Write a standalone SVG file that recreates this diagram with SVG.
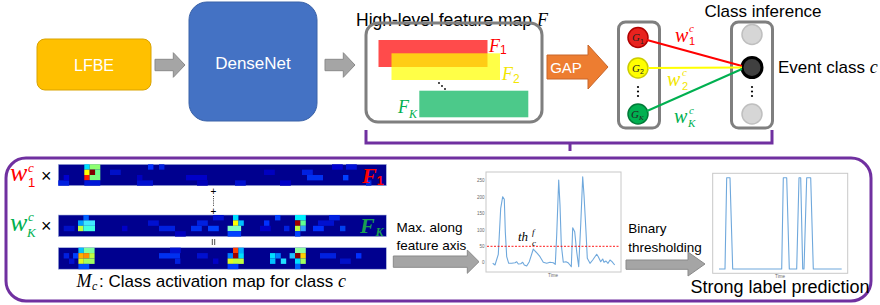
<svg xmlns="http://www.w3.org/2000/svg" width="880" height="305" viewBox="0 0 880 305">
<style>
.sans{font-family:"Liberation Sans",Arial,sans-serif}
.mi{font-family:"Liberation Serif","Times New Roman",serif;font-style:italic}
.wt{fill:#fff}
.box{fill:none;stroke:#7f7f7f;stroke-width:3}
.garrow{fill:#a5a5a5;stroke:#8a8a8a;stroke-width:1}
.tick{font-family:"Liberation Sans",Arial,sans-serif;font-size:4.5px;fill:#666;text-anchor:end}
.frame{fill:#fff;stroke:#c8c8c8;stroke-width:1}
.curve{fill:none;stroke:#6fa8dc;stroke-width:1.1;stroke-linejoin:round}
</style>
<rect width="880" height="305" fill="#fff"/>

<g id="lfbe">
<rect x="37" y="39" width="114" height="51" rx="8" fill="#FFC000" stroke="#d9a300" stroke-width="1"/>
<text class="sans wt" x="94" y="71" font-size="16" text-anchor="middle">LFBE</text>
</g>

<g id="densenet">
<rect x="189" y="2" width="128" height="119" rx="18" fill="#4472C4" stroke="#3a62a8" stroke-width="1"/>
<text class="sans wt" x="253" y="69" font-size="17" text-anchor="middle">DenseNet</text>
</g>

<g id="featuremap">
<text class="sans" x="356" y="26" font-size="17.5" fill="#000">High-level feature map <tspan class="mi" font-size="18">F</tspan></text>
<rect class="box" x="366" y="23" width="176" height="99" rx="12"/>
<rect x="378.5" y="40" width="109" height="27" fill="#FF4B4B"/>
<rect x="391.5" y="53.3" width="108.5" height="26.7" fill="#FFFF00" fill-opacity="0.72"/>
<rect x="419.3" y="90.7" width="109" height="26.6" fill="#4CC98A"/>
<text class="mi" x="489" y="51.5" font-size="18" fill="#FF0000">F</text>
<text class="sans" x="500" y="54" font-size="12" fill="#FF0000">1</text>
<text class="mi" x="502" y="79.5" font-size="18" fill="#F2E600">F</text>
<text class="sans" x="513" y="83" font-size="12" fill="#F2E600">2</text>
<text class="mi" x="398" y="113" font-size="18" fill="#00B050">F</text>
<text class="mi" x="409" y="118" font-size="12" fill="#00B050">K</text>
<circle cx="439" cy="83" r="0.9" fill="#000"/>
<circle cx="442" cy="86" r="0.9" fill="#000"/>
<circle cx="445" cy="89" r="0.9" fill="#000"/>
</g>

<g id="gap">
<path d="M547,55 L588,55 L588,45 L608,67 L588,89 L588,79 L547,79 Z" fill="#ED7D31" stroke="#c8662a" stroke-width="1"/>
<text class="sans wt" x="566" y="73" font-size="15" text-anchor="middle">GAP</text>
</g>

<g id="gap-neurons">
<rect class="box" x="618.5" y="22" width="41" height="106" rx="7"/>
<circle cx="638" cy="37.5" r="10" fill="#E8221E" stroke="#b00000" stroke-width="1.5"/>
<text class="mi" x="632" y="41" font-size="11" fill="#222">G</text><text class="sans" x="640" y="43.5" font-size="7" fill="#222">1</text>
<circle cx="638" cy="68" r="10" fill="#FFFF00" stroke="#cccc00" stroke-width="1.5"/>
<text class="mi" x="632" y="71.5" font-size="11" fill="#222">G</text><text class="sans" x="640" y="74" font-size="7" fill="#222">2</text>
<circle cx="638" cy="87" r="1.1" fill="#000"/><circle cx="638" cy="91.5" r="1.1" fill="#000"/><circle cx="638" cy="96" r="1.1" fill="#000"/>
<circle cx="638" cy="114" r="10" fill="#00B050" stroke="#007a38" stroke-width="1.5"/>
<text class="mi" x="631" y="117.5" font-size="11" fill="#222">G</text><text class="mi" x="639" y="120" font-size="7" fill="#222">K</text>
</g>

<g id="class-neurons">
<text class="sans" x="763" y="17" font-size="17" text-anchor="middle" fill="#000">Class inference</text>
<rect class="box" x="731.5" y="22" width="41" height="106" rx="7"/>
<circle cx="752" cy="34.5" r="10" fill="#d6d6d6" stroke="#bfbfbf" stroke-width="1.5"/>
<circle cx="752" cy="67.5" r="10" fill="#404040" stroke="#000" stroke-width="3"/>
<circle cx="752" cy="87" r="1.1" fill="#000"/><circle cx="752" cy="91.5" r="1.1" fill="#000"/><circle cx="752" cy="96" r="1.1" fill="#000"/>
<circle cx="752" cy="114" r="10" fill="#d6d6d6" stroke="#bfbfbf" stroke-width="1.5"/>
<text class="sans" x="778" y="73" font-size="17" fill="#000">Event class <tspan class="mi" font-size="18">c</tspan></text>
</g>

<g id="connectors">
<path class="garrow" d="M155,59.3 L173.3,59.3 L173.3,52.7 L185,65 L173.3,77.3 L173.3,70.7 L155,70.7 Z"/>
<path class="garrow" d="M325,59.3 L343.3,59.3 L343.3,52.7 L355,65 L343.3,77.3 L343.3,70.7 L325,70.7 Z"/>
<line x1="647" y1="40" x2="742" y2="66" stroke="#FF0000" stroke-width="2"/>
<line x1="648" y1="68" x2="742" y2="67.5" stroke="#FFFF00" stroke-width="2"/>
<line x1="647" y1="111" x2="742" y2="69" stroke="#00B050" stroke-width="2"/>
<path d="M366,130 V143 H772 V130 M570,143 V151" fill="none" stroke="#7030A0" stroke-width="3"/>
<path class="garrow" d="M393.3,256 L467.3,256 L467.3,250 L479,261.7 L467.3,273.3 L467.3,267.3 L393.3,267.3 Z"/>
<path class="garrow" d="M626,260 L688,260 L688,252 L705,264 L688,276 L688,269.3 L626,269.3 Z"/>
</g>

<g id="weights">
<text class="mi" x="675" y="41.5" font-size="20" fill="#FF0000">w</text>
<text class="mi" x="689" y="32" font-size="11" fill="#FF0000">c</text>
<text class="sans" x="689" y="45" font-size="11" fill="#FF0000">1</text>
<text class="mi" x="667" y="86" font-size="20" fill="#F2E600">w</text>
<text class="mi" x="682" y="76" font-size="11" fill="#F2E600">c</text>
<text class="sans" x="682" y="89.5" font-size="11" fill="#F2E600">2</text>
<text class="mi" x="674" y="123" font-size="20" fill="#00B050">w</text>
<text class="mi" x="689" y="113.5" font-size="11" fill="#00B050">c</text>
<text class="mi" x="688" y="127" font-size="11" fill="#00B050">K</text>
</g>

<g id="cam-panel">
<rect x="6" y="158" width="865" height="143" rx="20" fill="none" stroke="#7030A0" stroke-width="3"/>

<text class="mi" x="10" y="181" font-size="26" fill="#FF0000">w</text>
<text class="mi" x="28" y="172" font-size="13" fill="#FF0000">c</text>
<text class="sans" x="28" y="187" font-size="13" fill="#FF0000">1</text>
<text class="sans" x="41" y="182" font-size="18" fill="#000">×</text>
<text class="mi" x="10" y="231" font-size="26" fill="#00B050">w</text>
<text class="mi" x="28" y="221" font-size="13" fill="#00B050">c</text>
<text class="mi" x="27" y="237" font-size="13" fill="#00B050">K</text>
<text class="sans" x="41" y="232" font-size="18" fill="#000">×</text>

<g id="strip1">
<rect x="58.3" y="164.3" width="328" height="21.4" fill="#00008F" stroke="#aab8dd" stroke-width="0.6"/>
<rect x="58.3" y="180.35" width="10.8" height="5.35" fill="#0020E0"/>
<rect x="63.7" y="175" width="5.4" height="5.35" fill="#0000D0"/>
<rect x="110" y="169.65" width="10.8" height="5.35" fill="#0010C8"/>
<rect x="148" y="164.3" width="5.4" height="5.35" fill="#0030FF"/>
<rect x="159" y="164.3" width="5.4" height="5.35" fill="#0020E0"/>
<rect x="137" y="175" width="5.4" height="5.35" fill="#0000C0"/>
<rect x="137" y="180.35" width="16" height="5.35" fill="#0010D0"/>
<rect x="186" y="175" width="21" height="5.35" fill="#0000C8"/>
<rect x="197" y="180.35" width="10.8" height="5.35" fill="#0000B8"/>
<rect x="235" y="180.35" width="10.8" height="5.35" fill="#0010D0"/>
<rect x="264" y="169.65" width="10.8" height="5.35" fill="#0000C0"/>
<rect x="280" y="180.35" width="10.8" height="5.35" fill="#0000C8"/>
<rect x="302" y="169.65" width="10.8" height="5.35" fill="#0020E0"/>
<rect x="307" y="175" width="16" height="5.35" fill="#0030F0"/>
<rect x="332" y="164.3" width="10.8" height="5.35" fill="#0000D0"/>
<rect x="346" y="164.3" width="10.8" height="5.35" fill="#0010D8"/>
<rect x="343" y="175" width="5.4" height="5.35" fill="#0040FF"/>
<rect x="366" y="180.35" width="5.4" height="5.35" fill="#0030E0"/>
<rect x="84.3" y="164.3" width="5.4" height="5.35" fill="#00E0FF"/>
<rect x="89.7" y="164.3" width="10.6" height="5.35" fill="#8CFF70"/>
<rect x="84.3" y="169.65" width="5.4" height="5.35" fill="#FFFF00"/>
<rect x="89.7" y="169.65" width="5.4" height="5.35" fill="#800000"/>
<rect x="95.1" y="169.65" width="5.2" height="5.35" fill="#70FF90"/>
<rect x="84.3" y="175" width="5.4" height="5.35" fill="#FF1800"/>
<rect x="89.7" y="175" width="10.6" height="5.35" fill="#7CFF80"/>
<rect x="84.3" y="180.35" width="16" height="5.35" fill="#0018D8"/>
<text class="mi" x="362" y="183" font-size="22" font-weight="bold" fill="#FF0000">F</text>
<text class="sans" x="376.5" y="185" font-size="13" font-weight="bold" fill="#FF0000">1</text>
</g>

<text class="sans" x="213.5" y="195" font-size="10" text-anchor="middle" fill="#000">+</text>
<line x1="213.5" y1="196" x2="213.5" y2="207" stroke="#000" stroke-width="0.8" stroke-dasharray="1,1.2"/>
<text class="sans" x="213.5" y="215" font-size="10" text-anchor="middle" fill="#000">+</text>
<path d="M212.3,239 V245 M214.7,239 V245" stroke="#000" stroke-width="0.7"/>

<g id="stripK">
<rect x="58.3" y="215" width="328" height="21.6" fill="#00008F" stroke="#aab8dd" stroke-width="0.6"/>
<rect x="63.7" y="225.8" width="10.8" height="5.4" fill="#0010C8"/>
<rect x="122" y="225.8" width="5.4" height="5.4" fill="#0000C8"/>
<rect x="148" y="220.4" width="10.8" height="5.4" fill="#0010D0"/>
<rect x="159" y="225.8" width="16" height="5.4" fill="#0020E0"/>
<rect x="175" y="231.2" width="10.8" height="5.4" fill="#0000C0"/>
<rect x="191" y="225.8" width="10.8" height="5.4" fill="#0030F0"/>
<rect x="197" y="220.4" width="10.8" height="5.4" fill="#0020E0"/>
<rect x="208" y="225.8" width="10.8" height="5.4" fill="#0040FF"/>
<rect x="213" y="215" width="10.8" height="5.4" fill="#0010D0"/>
<rect x="260" y="225.8" width="10.8" height="5.4" fill="#0000C8"/>
<rect x="264" y="220.4" width="5.4" height="5.4" fill="#0030FF"/>
<rect x="275" y="215" width="5.4" height="5.4" fill="#0040FF"/>
<rect x="284" y="225.8" width="5.4" height="5.4" fill="#0020E0"/>
<rect x="313" y="225.8" width="10.8" height="5.4" fill="#0030FF"/>
<rect x="318" y="220.4" width="16" height="5.4" fill="#0010D0"/>
<rect x="329" y="215" width="10.8" height="5.4" fill="#0020E0"/>
<rect x="340" y="225.8" width="5.4" height="5.4" fill="#0040F0"/>
<rect x="83.4" y="215" width="5.4" height="5.4" fill="#0060FF"/>
<rect x="78" y="220.4" width="5.4" height="5.4" fill="#00A0FF"/>
<rect x="83.4" y="220.4" width="11.6" height="5.4" fill="#40E8FF"/>
<rect x="78" y="225.8" width="5.4" height="5.4" fill="#C0FF40"/>
<rect x="83.4" y="225.8" width="11.6" height="5.4" fill="#40FFE0"/>
<rect x="233" y="215" width="5.4" height="5.4" fill="#00E0FF"/>
<rect x="233" y="220.4" width="5.4" height="5.4" fill="#FFFF00"/>
<rect x="238.4" y="220.4" width="5.4" height="5.4" fill="#00C0FF"/>
<rect x="227.6" y="225.8" width="13.5" height="5.4" fill="#80FFC0"/>
<rect x="227.6" y="231.2" width="13.5" height="5.4" fill="#0040FF"/>
<rect x="295" y="215" width="10.8" height="5.4" fill="#00F0FF"/>
<rect x="295" y="220.4" width="5.4" height="5.4" fill="#A00000"/>
<rect x="300.4" y="220.4" width="5.4" height="5.4" fill="#60FF90"/>
<rect x="295" y="225.8" width="5.4" height="5.4" fill="#C0FF40"/>
<rect x="300.4" y="225.8" width="5.4" height="5.4" fill="#30A0FF"/>
<rect x="295" y="231.2" width="5.4" height="5.4" fill="#0040FF"/>
<text class="mi" x="360" y="233" font-size="22" font-weight="bold" fill="#1a9e52">F</text>
<text class="mi" x="375.5" y="236" font-size="12" font-weight="bold" fill="#1a9e52">K</text>
</g>

<g id="stripM">
<rect x="58.3" y="247.7" width="328" height="21.5" fill="#00008F" stroke="#aab8dd" stroke-width="0.6"/>
<rect x="63.7" y="253.1" width="5.4" height="5.4" fill="#0020E0"/>
<rect x="69" y="258.5" width="5.4" height="5.4" fill="#0010D0"/>
<rect x="159" y="253.1" width="21" height="5.4" fill="#0030F0"/>
<rect x="170" y="247.7" width="10.8" height="5.4" fill="#0010D0"/>
<rect x="175" y="258.5" width="5.4" height="5.4" fill="#0020E0"/>
<rect x="197" y="253.1" width="10.8" height="5.4" fill="#0010D0"/>
<rect x="213" y="258.5" width="5.4" height="5.4" fill="#0000C8"/>
<rect x="320" y="253.1" width="16" height="5.4" fill="#0020E0"/>
<rect x="340" y="258.5" width="10.8" height="5.4" fill="#0010C8"/>
<rect x="356" y="253.1" width="5.4" height="5.4" fill="#0030FF"/>
<rect x="73" y="253.1" width="5.4" height="5.4" fill="#0040FF"/>
<rect x="78.4" y="247.7" width="5.4" height="5.4" fill="#00C0FF"/>
<rect x="83.8" y="247.7" width="10.8" height="5.4" fill="#80FFA0"/>
<rect x="78.4" y="253.1" width="5.4" height="5.4" fill="#FFB000"/>
<rect x="83.8" y="253.1" width="5.4" height="5.4" fill="#FF9000"/>
<rect x="89.2" y="253.1" width="5.4" height="5.4" fill="#C0FF40"/>
<rect x="78.4" y="258.5" width="5.4" height="5.4" fill="#E0FF20"/>
<rect x="83.8" y="258.5" width="10.8" height="5.4" fill="#A0FF60"/>
<rect x="78.4" y="263.9" width="10.8" height="5.3" fill="#0050FF"/>
<rect x="233" y="247.7" width="5.4" height="5.4" fill="#FF4000"/>
<rect x="238.4" y="247.7" width="5.4" height="5.4" fill="#00B0FF"/>
<rect x="227.6" y="253.1" width="5.4" height="5.4" fill="#0080FF"/>
<rect x="233" y="253.1" width="5.4" height="5.4" fill="#A00000"/>
<rect x="238.4" y="253.1" width="5.4" height="5.4" fill="#00E0FF"/>
<rect x="227.6" y="258.5" width="5.4" height="5.4" fill="#E0FF20"/>
<rect x="233" y="258.5" width="10.8" height="5.4" fill="#C0FF40"/>
<rect x="227.6" y="263.9" width="10.8" height="5.3" fill="#0040FF"/>
<rect x="270" y="253.1" width="5.4" height="5.4" fill="#00E0FF"/>
<rect x="275.4" y="253.1" width="5.4" height="5.4" fill="#0080FF"/>
<rect x="270" y="258.5" width="5.4" height="5.4" fill="#00C0FF"/>
<rect x="280.8" y="258.5" width="5.4" height="5.4" fill="#20E0FF"/>
<rect x="295" y="247.7" width="10.8" height="5.4" fill="#90FFA0"/>
<rect x="289.6" y="253.1" width="5.4" height="5.4" fill="#20C0FF"/>
<rect x="295" y="253.1" width="5.4" height="5.4" fill="#900000"/>
<rect x="300.4" y="253.1" width="5.4" height="5.4" fill="#FFD000"/>
<rect x="295" y="258.5" width="5.4" height="5.4" fill="#00E0FF"/>
<rect x="300.4" y="258.5" width="5.4" height="5.4" fill="#A0FF60"/>
<rect x="295" y="263.9" width="5.4" height="5.3" fill="#0060FF"/>
</g>

<text class="mi" x="76.5" y="286.7" font-size="18" fill="#000">M</text>
<text class="mi" x="92" y="290" font-size="12" fill="#000">c</text>
<text class="sans" x="99" y="286.7" font-size="17" fill="#000">: Class activation map for class <tspan class="mi" font-size="18">c</tspan></text>
</g>

<g id="max-plot">
<text class="sans" x="396.5" y="231.5" font-size="13.5" fill="#000">Max. along</text>
<text class="sans" x="396.5" y="250" font-size="13.5" fill="#000">feature axis</text>
<rect class="frame" x="486" y="172" width="135" height="100"/>
<text class="tick" x="484.5" y="182.3">250</text>
<text class="tick" x="484.5" y="198.7">200</text>
<text class="tick" x="484.5" y="215">150</text>
<text class="tick" x="484.5" y="231.5">100</text>
<text class="tick" x="484.5" y="248">50</text>
<text class="tick" x="484.5" y="264.3">0</text>
<text class="sans" x="553" y="277" font-size="4.5" fill="#666" text-anchor="middle">Time</text>
<polyline class="curve" points="492.7,263.3 495,265 498.3,254.3 500.7,208.3 502.7,196.7 504.3,199.3 505.3,231.7 506.7,256.7 508.7,263.3 511.7,263.3 515,262.7 516.7,261.7 518.3,264 520.7,263.7 522.7,262.3 524.3,265 526.7,266 529.3,261.7 533.3,249 535,251 537.3,253.3 540,256.7 543.3,262.3 546.7,263.3 550,262.3 553.3,262.7 555.3,264.3 556.7,235 558.7,180 560,205 561.3,245 563.3,262.3 566,261.7 568,262.7 570,265 571.3,266.7 572.7,227.7 574.7,231.7 576.7,251.7 578.7,266.7 580.7,225 582.7,176.7 584,195 586,231.7 587.3,258.3 590,263.3 592.7,260 596.7,254.3 598.3,256.7 600.7,261.7 602.7,259 604,262.3 606,261 608,263.3 610,260 612,261.7 614.7,265"/>
<line x1="487" y1="246.3" x2="620" y2="246.3" stroke="#FF0000" stroke-width="0.9" stroke-dasharray="2,1.5"/>
<text class="mi" x="518" y="241" font-size="13" fill="#000">th</text>
<text class="mi" x="532" y="234.5" font-size="9" fill="#000">f</text>
<text class="mi" x="532" y="246" font-size="9" fill="#000">c</text>
</g>

<g id="binary-plot">
<text class="sans" x="628.3" y="233.3" font-size="13.5" fill="#000">Binary</text>
<text class="sans" x="628.3" y="251.7" font-size="13.5" fill="#000">thresholding</text>
<rect class="frame" x="712.7" y="173.3" width="135" height="100"/>
<text class="sans" x="780" y="277.5" font-size="4.5" fill="#666" text-anchor="middle">Time</text>
<polyline class="curve" points="719,269 725,269 726.7,177.7 730,177.7 732.7,269 781.7,269 783.3,177.7 786.7,177.7 789.3,269 796.7,269 799,177.7 800.7,177.7 802.7,269 804,269 806.7,177.7 810.7,177.7 813.3,269 841.7,269"/>
<text class="sans" x="690.5" y="293.3" font-size="18" fill="#000">Strong label prediction</text>
</g>
</svg>
